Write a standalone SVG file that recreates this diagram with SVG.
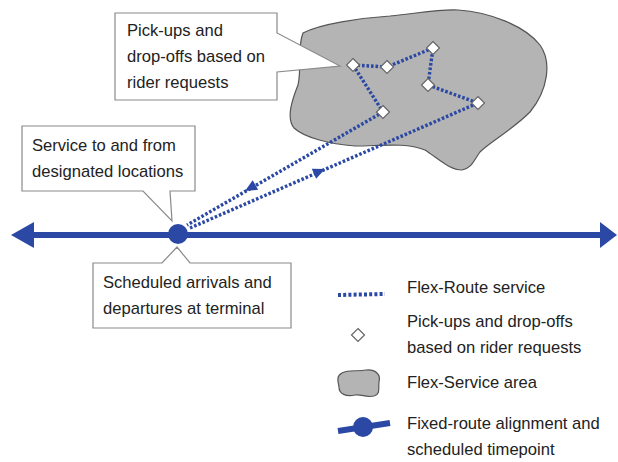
<svg xmlns="http://www.w3.org/2000/svg" width="618" height="462" viewBox="0 0 618 462">
<style>
text{font-family:"Liberation Sans",Arial,sans-serif;font-size:16.6px;fill:#222}
.callout{fill:#fff;stroke:#8a8a8a;stroke-width:1.2}
.blob{fill:#b4b4b4;stroke:#555;stroke-width:1.2}
.dot{fill:none;stroke:#2a48a4;stroke-width:3.4;stroke-dasharray:2.6 1.9}
.dia{fill:#fff;stroke:#666;stroke-width:1.2}
.blue{fill:#2a48a4}
.main{stroke:#2a48a4;stroke-width:6;fill:none}
</style>
<defs>
<polygon id="dm" points="0,-6.5 6.5,0 0,6.5 -6.5,0"/>
<polygon id="ah" points="0,0 -12,-5.5 -12,5.5"/>
</defs>

<g id="service-area">
<path class="blob" d="M303,33 C320,24 360,18 390,16 C420,13 440,9 458,10 C490,12 525,26 540,45 C552,62 548,90 530,112 C512,130 490,142 480,152 C474,160 472,168 462,170 C450,170 440,160 425,150 C405,142 380,146 355,146 C330,144 305,138 294,128 C286,118 292,100 298,85 C302,68 297,48 303,33 Z"/>
</g>

<g id="connectors">
<path class="dot" d="M353,65 L387,67 L433,48 L428,85 L478,103"/>
<path class="dot" d="M353,65 L383,112"/>
<path class="dot" d="M383,112 L187,225"/>
<path class="dot" d="M190,228 L478,103"/>
<use href="#ah" class="blue" transform="translate(245,191) rotate(150)"/>
<use href="#ah" class="blue" transform="translate(325,169) rotate(-23)"/>
<line class="main" x1="30" y1="235" x2="602" y2="235"/>
<polygon class="blue" points="11,235 34,222 34,248"/>
<polygon class="blue" points="617,235 600,222 600,248"/>
</g>

<g id="stops">
<use href="#dm" class="dia" x="353" y="65"/>
<use href="#dm" class="dia" x="387" y="67"/>
<use href="#dm" class="dia" x="433" y="48"/>
<use href="#dm" class="dia" x="428" y="85"/>
<use href="#dm" class="dia" x="478" y="103"/>
<use href="#dm" class="dia" x="383" y="112"/>
</g>

<g id="terminal">
<circle class="blue" cx="178" cy="234" r="10"/>
</g>

<g id="callout-pickups">
<path class="callout" d="M115,13 H277 V33 L340,66 L277,72 V100 H115 Z"/>
<text x="127" y="36">Pick-ups and</text>
<text x="127" y="62">drop-offs based on</text>
<text x="127" y="88">rider requests</text>
</g>

<g id="callout-service">
<path class="callout" d="M22,126 H195 V191 H170 L172,221 L143,191 H22 Z"/>
<text x="32" y="151">Service to and from</text>
<text x="32" y="177">designated locations</text>
</g>

<g id="callout-scheduled">
<path class="callout" d="M93,263 H162 L177,247 L190,263 H291 V328 H93 Z"/>
<text x="103" y="288">Scheduled arrivals and</text>
<text x="103" y="314">departures at terminal</text>
</g>

<g id="legend">
<line x1="338" y1="295" x2="385" y2="294" stroke="#2a48a4" stroke-width="4" stroke-dasharray="3 2.2"/>
<text x="407" y="293">Flex-Route service</text>
<use href="#dm" class="dia" x="358" y="335"/>
<text x="407" y="327">Pick-ups and drop-offs</text>
<text x="407" y="353">based on rider requests</text>
<path class="blob" d="M342,373 C350,369 358,372 366,370 C376,369 381,375 379,382 C378,388 381,394 374,396 C366,398 362,394 355,395 C346,397 339,394 339,387 C338,381 336,376 342,373 Z"/>
<text x="407" y="388">Flex-Service area</text>
<line x1="338" y1="431" x2="390" y2="423" stroke="#2a48a4" stroke-width="6"/>
<circle class="blue" cx="363" cy="427" r="10"/>
<text x="407" y="429">Fixed-route alignment and</text>
<text x="407" y="455">scheduled timepoint</text>
</g>
</svg>
